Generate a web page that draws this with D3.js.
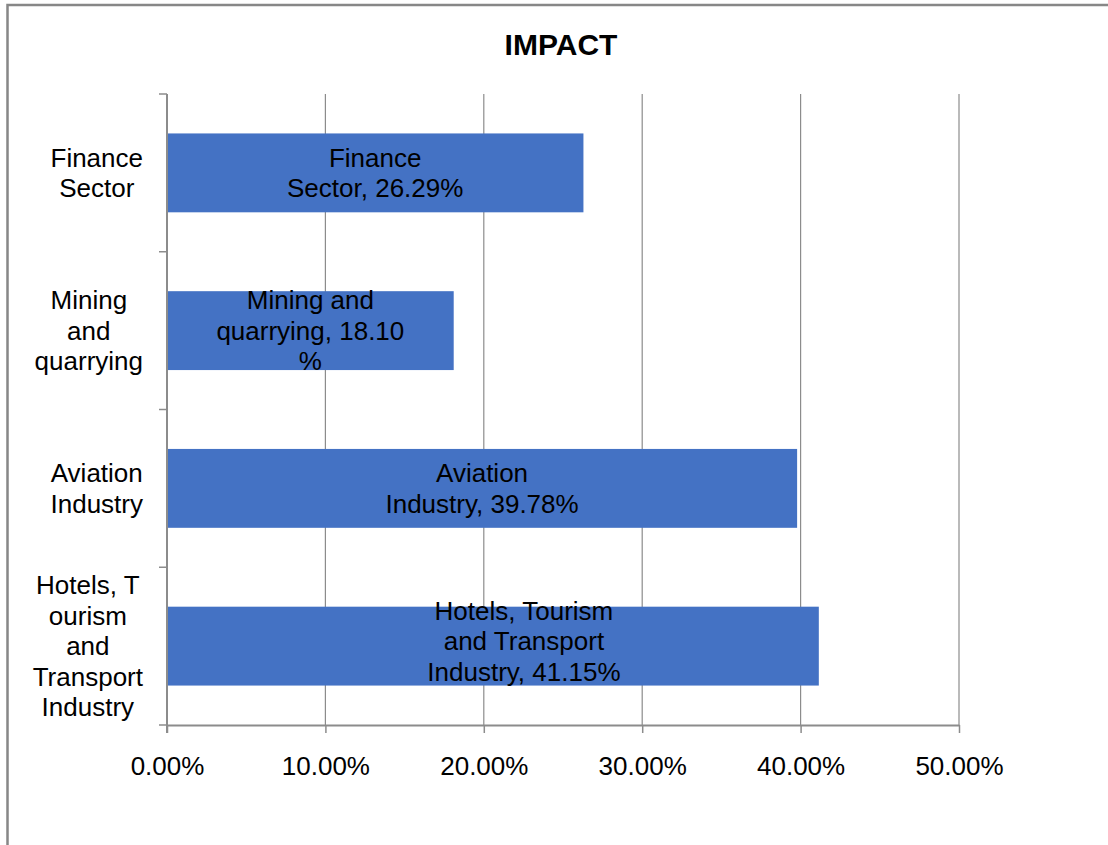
<!DOCTYPE html>
<html>
<head>
<meta charset="utf-8">
<script src="https://cdn.jsdelivr.net/npm/d3@7"></script>
<style>
body { margin: 0; background: #fff; }
text { font-family: "Liberation Sans", Arial, sans-serif; }
</style>
</head>
<body>
<script>
// data
var categories = ["Finance Sector", "Mining and quarrying", "Aviation Industry", "Hotels, Tourism and Transport Industry"];
var categoryLines = [["Finance", "Sector"], ["Mining", "and", "quarrying"], ["Aviation", "Industry"], ["Hotels, T", "ourism", "and", "Transport", "Industry"]];
var values = [0.2629, 0.1810, 0.3978, 0.4115];
var labelLines = [["Finance", "Sector, 26.29%"], ["Mining and", "quarrying, 18.10", "%"], ["Aviation", "Industry, 39.78%"], ["Hotels, Tourism", "and Transport", "Industry, 41.15%"]];
var xTicks = [0, 0.1, 0.2, 0.3, 0.4, 0.5];

var w = 1108, h = 845;
var svg = d3.select("body").append("svg")
    .attr("width", w)
    .attr("height", h);

// outer frame
svg.append("rect")
    .attr("x", 7.5).attr("y", 5)
    .attr("width", w + 20).attr("height", h + 20)
    .attr("fill", "none")
    .attr("stroke", "#878787")
    .attr("stroke-width", 2.5);

svg.append("text")
    .attr("x", 561).attr("y", 44)
    .attr("text-anchor", "middle")
    .attr("dominant-baseline", "central")
    .style("font-size", "30px")
    .style("font-weight", "bold")
    .text("IMPACT");

var plotLeft = 167, plotRight = 959, plotTop = 94, plotBottom = 725;
var gridColor = "#8c8c8c";

var xScale = d3.scaleLinear().domain([0, 0.5]).range([plotLeft, plotRight]);
var yScale = d3.scaleBand().domain(categories).range([plotTop, plotBottom]).paddingInner(0.5).paddingOuter(0.25);

// gridlines
svg.selectAll(".grid")
    .data(xTicks.slice(1))
    .enter().append("line")
    .attr("x1", function(d) { return xScale(d); })
    .attr("x2", function(d) { return xScale(d); })
    .attr("y1", plotTop).attr("y2", plotBottom)
    .attr("stroke", gridColor)
    .attr("stroke-width", 1.2);

// bars
svg.selectAll(".bar")
    .data(values)
    .enter().append("rect")
    .attr("x", xScale(0))
    .attr("y", function(d, i) { return yScale(categories[i]); })
    .attr("width", function(d) { return xScale(d) - xScale(0); })
    .attr("height", yScale.bandwidth())
    .attr("fill", "#4472C4");

// x axis
var xAxis = svg.append("g")
    .attr("transform", "translate(0," + plotBottom + ")")
    .call(d3.axisBottom(xScale).tickValues(xTicks).tickFormat(d3.format(".2%")).tickSize(8).tickSizeOuter(0).tickPadding(28));
xAxis.select(".domain").attr("stroke", gridColor).attr("stroke-width", 2);
xAxis.selectAll("line").attr("stroke", gridColor).attr("stroke-width", 1.5);
xAxis.selectAll("text").style("font-size", "26px").attr("fill", "#000")
    .attr("font-family", null).attr("dy", "0.55em");

// y axis (ticks at band edges)
var step = yScale.step();
var edges = d3.range(categories.length + 1).map(function(i) { return plotTop + i * step; });
svg.append("line")
    .attr("x1", plotLeft).attr("x2", plotLeft)
    .attr("y1", plotTop).attr("y2", plotBottom + 8)
    .attr("stroke", gridColor).attr("stroke-width", 2);
svg.selectAll(".ytick")
    .data(edges)
    .enter().append("line")
    .attr("x1", plotLeft - 8).attr("x2", plotLeft)
    .attr("y1", function(d) { return d; })
    .attr("y2", function(d) { return d; })
    .attr("stroke", gridColor).attr("stroke-width", 1.5);

var lineH = 30.5;

// category labels: lines centred in their block, block right-aligned near the axis
categoryLines.forEach(function(lines, i) {
    var cy = yScale(categories[i]) + yScale.bandwidth() / 2;
    var t = svg.append("text")
        .attr("text-anchor", "middle")
        .style("font-size", "26px");
    var spans = lines.map(function(s, j) {
        return t.append("tspan")
            .attr("y", cy + (j - (lines.length - 1) / 2) * lineH)
            .attr("dy", "0.35em")
            .text(s);
    });
    var maxW = d3.max(spans, function(sp) { return sp.node().getComputedTextLength(); });
    spans.forEach(function(sp) { sp.attr("x", 143 - maxW / 2); });
});

// data labels inside bars
labelLines.forEach(function(lines, i) {
    var cy = yScale(categories[i]) + yScale.bandwidth() / 2;
    var cx = (xScale(0) + xScale(values[i])) / 2;
    if (i == 3) { cx += 31; cy -= 5; } // this label was nudged in the original
    var t = svg.append("text")
        .attr("text-anchor", "middle")
        .style("font-size", "26px");
    lines.forEach(function(s, j) {
        t.append("tspan")
            .attr("x", cx)
            .attr("y", cy + (j - (lines.length - 1) / 2) * lineH)
            .attr("dy", "0.35em")
            .text(s);
    });
});
</script>
</body>
</html>
